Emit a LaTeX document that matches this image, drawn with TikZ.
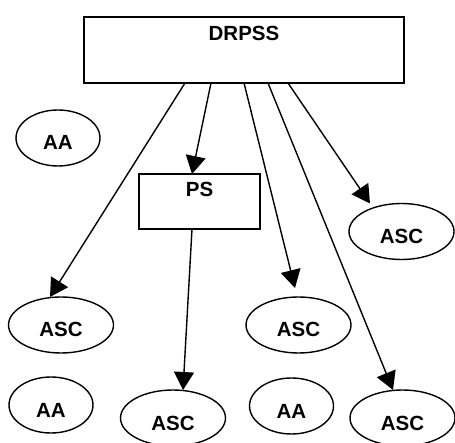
\documentclass[tikz,border=0pt]{standalone}
\usepackage{fontspec}
\setmainfont{Liberation Sans}
\usetikzlibrary{shapes.geometric,arrows.meta}
\begin{document}
\begin{tikzpicture}[x=1pt,y=-1pt,
  every node/.style={font=\fontsize{20.5}{24}\selectfont\bfseries, inner sep=0pt, outer sep=0pt},
  box/.style={draw, line width=1.4pt, rectangle},
  oval/.style={draw, line width=1.4pt, ellipse, minimum height=56pt, text height=24pt, text depth=0pt},
  ascov/.style={oval, minimum width=105pt},
  aaov/.style={oval, minimum width=84pt},
  lbl/.style={},
  conn/.style={line width=1.4pt, -{Triangle[length=18pt,width=20pt]}}]
\useasboundingbox (0,0) rectangle (455,443);
\node[box, minimum width=320pt, minimum height=66pt] (drpss) at (244,50) {};
\node[lbl] (drpsst) at (244,33.5) {DRPSS};
\node[box, minimum width=121pt, minimum height=55pt] (ps) at (199.5,201.5) {};
\node[lbl] (pst) at (199.5,189) {PS};
\node[aaov] (aa1) at (58,138) {AA};
\node[ascov] (ascR) at (401.5,231.5) {ASC};
\node[ascov] (ascL) at (61,325) {ASC};
\node[ascov] (ascM) at (298.5,325) {ASC};
\node[aaov] (aa2) at (51,405) {AA};
\node[ascov] (ascB) at (173,418) {ASC};
\node[aaov] (aa3) at (291.5,406) {AA};
\node[ascov] (ascBR) at (402.5,418) {ASC};
\draw[conn] ([xshift=-59pt]drpss.south) -- ([xshift=-11pt]ascL.north);
\draw[conn] ([xshift=-33pt]drpss.south) -- ([xshift=-7.5pt]ps.north);
\draw[conn] ([xshift=0pt]drpss.south) -- ([xshift=-3.5pt,yshift=9pt]ascM.north);
\draw[conn] ([xshift=24pt]drpss.south) -- ([xshift=-9.5pt]ascBR.north);
\draw[conn] ([xshift=44pt]drpss.south) -- ([xshift=-31.5pt]ascR.north);
\draw[conn] ([xshift=-7.5pt]ps.south) -- ([xshift=10pt]ascB.north);
\end{tikzpicture}
\end{document}
